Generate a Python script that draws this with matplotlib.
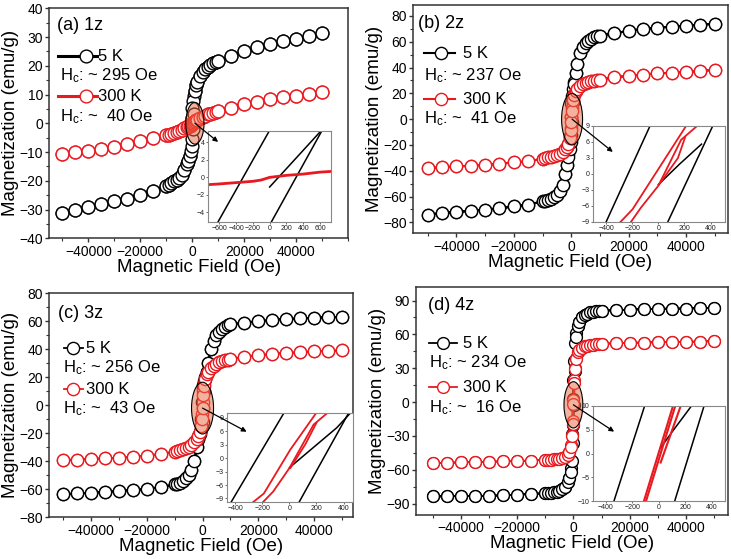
import numpy as np
import matplotlib.pyplot as plt
from matplotlib.patches import Ellipse
from matplotlib.ticker import MultipleLocator

plt.rcParams['font.family'] = ['Liberation Sans', 'DejaVu Sans']
plt.rcParams['mathtext.default'] = 'regular'

W, H = 731, 559
RED = '#e8191f'

# measurement grid (Oe): outer points are shared by both branches
field_outer = [1500, 2000, 3000, 4000, 5000, 6000, 7000, 8000, 9000, 10000,
               15000, 20000, 25000, 30000, 35000, 40000, 45000, 50000]
field_inner = [-1000, -500, -200, 0, 200, 500, 1000]
field_ticks = [-40000, -20000, 0, 20000, 40000]

# (a) 1z
a5_pos = [13.2, 14.4, 16.5, 18.0, 19.0, 19.7, 20.3, 20.9, 21.3, 21.7,
          23.5, 25.2, 26.4, 27.6, 28.5, 29.4, 30.4, 31.3]
a5_neg = [-13.0, -14.3, -16.4, -17.9, -18.9, -19.6, -20.2, -20.8, -21.3, -21.8,
          -23.5, -24.9, -26.2, -27.2, -28.2, -29.2, -30.1, -31.3]
a5_down = [-11.3, -3.1, 2.0, 5.4, 7.8, 9.6, 11.4]
a5_up = [-11.4, -9.6, -7.8, -5.4, -2.0, 3.1, 11.3]
a300_pos = [1.0, 1.3, 1.8, 2.3, 2.7, 3.1, 3.4, 3.7, 4.0, 4.3,
            5.4, 6.6, 7.5, 8.3, 9.0, 9.6, 10.1, 10.8]
a300_neg = [-1.0, -1.3, -1.8, -2.3, -2.7, -3.0, -3.3, -3.6, -3.9, -4.1,
            -5.2, -6.3, -7.2, -8.1, -8.8, -9.5, -10.1, -10.7]
a300_down = [-0.8, -0.45, -0.2, 0.05, 0.25, 0.45, 0.75]
a300_up = [-0.8, -0.5, -0.3, -0.05, 0.2, 0.4, 0.75]

# (b) 2z
b5_pos = [35.6, 42.5, 51.0, 56.0, 58.8, 60.8, 62.3, 63.5, 64.3, 64.8,
          66.6, 68.4, 69.9, 71.0, 71.7, 72.5, 73.3, 73.9]
b5_neg = [-35.6, -42.5, -51.0, -56.0, -58.8, -60.5, -61.8, -62.8, -63.4, -63.8,
          -66.3, -67.6, -69.2, -70.2, -71.0, -72.0, -72.8, -74.1]
b5_down = [-27.0, -13.0, 2.0, 12.5, 18.0, 23.0, 29.0]
b5_up = [-29.0, -23.0, -18.0, -12.5, -2.0, 13.0, 27.0]
b300_pos = [21.5, 23.5, 25.8, 27.3, 28.3, 29.0, 29.5, 29.9, 30.3, 30.6,
            32.5, 33.5, 34.6, 35.4, 36.1, 36.6, 37.4, 38.2]
b300_neg = [-21.5, -23.5, -25.5, -27.0, -28.0, -28.7, -29.2, -29.6, -30.0, -30.7,
            -32.8, -33.5, -34.6, -35.4, -36.1, -36.6, -37.4, -37.9]
b300_down = [-19.0, -14.5, -6.6, 1.5, 8.5, 15.0, 19.5]
b300_up = [-19.5, -15.0, -8.5, -2.2, 6.3, 14.5, 19.0]

# (c) 3z
c5_pos = [24.0, 30.0, 40.2, 46.0, 50.2, 52.3, 54.3, 55.9, 57.1, 57.9,
          59.0, 60.0, 61.0, 61.7, 62.1, 62.6, 62.9, 63.3]
c5_neg = [-24.0, -30.0, -40.0, -46.0, -50.0, -52.0, -54.0, -55.3, -56.0, -56.4,
          -58.6, -59.8, -60.5, -61.2, -61.9, -62.4, -62.9, -63.6]
c5_down = [-19.0, -10.0, 2.0, 12.0, 14.5, 17.0, 20.5]
c5_up = [-20.5, -17.0, -14.5, -12.0, -2.0, 10.0, 19.0]
c300_pos = [22.0, 24.0, 26.4, 28.4, 29.8, 30.8, 31.6, 32.1, 32.6, 32.9,
            34.8, 35.7, 36.7, 37.4, 37.9, 38.6, 38.8, 39.3]
c300_neg = [-22.0, -24.0, -26.4, -28.4, -29.8, -30.8, -31.5, -32.0, -32.5, -33.1,
            -34.8, -36.0, -36.7, -37.4, -37.9, -38.3, -38.8, -39.0]
c300_down = [-19.0, -14.0, -6.5, 2.0, 10.0, 15.0, 19.0]
c300_up = [-19.0, -15.0, -10.0, -2.2, 7.0, 14.0, 19.0]

# (d) 4z
d5_pos = [67.5, 71.0, 75.0, 77.0, 78.3, 79.5, 80.2, 80.6, 80.9, 81.0,
          81.4, 82.0, 82.3, 82.6, 82.9, 82.9, 83.2, 83.5]
d5_neg = [-67.5, -71.0, -75.0, -77.0, -78.3, -79.3, -80.0, -80.3, -80.5, -80.6,
          -81.4, -82.0, -82.6, -82.9, -83.2, -83.2, -83.5, -83.5]
d5_down = [-58.0, -28.0, 2.5, 20.0, 36.0, 52.0, 61.5]
d5_up = [-61.5, -52.0, -36.0, -20.0, -2.5, 28.0, 58.0]
d300_pos = [44.0, 46.5, 48.3, 49.3, 50.0, 50.6, 51.0, 51.3, 51.6, 51.6,
            52.2, 52.5, 52.8, 53.1, 53.1, 53.4, 53.7, 54.0]
d300_neg = [-44.0, -46.5, -48.3, -49.3, -50.0, -50.4, -50.7, -50.9, -51.0, -51.0,
            -51.8, -52.2, -52.5, -52.8, -53.1, -53.4, -53.7, -54.0]
d300_down = [-38.0, -29.0, -17.0, 1.5, 19.5, 30.0, 39.5]
d300_up = [-39.5, -30.0, -19.5, -1.5, 17.0, 29.0, 38.0]

# low-field insets: (field, M) polylines
ins_a_black = [([-615, -5], [-5.1, 5.3]), ([20, 620], [-5.1, 5.3]), ([0, 600], [-1.1, 5.2])]
ins_a_red = [([-730, -600, -400, -200, -100, 0, 200, 400, 600, 730],
              [-0.83, -0.75, -0.6, -0.45, -0.3, 0.0, 0.23, 0.38, 0.6, 0.68])]
ins_b_black = [([-400, -64], [-9, 9]), ([72, 416], [-9, 9]), ([0, 160, 330], [-2.0, 1.8, 5.6])]
ins_b_red = [([-290, -197, 212], [-9, -6.6, 9]),
             ([-210, -133, 0, 174, 296], [-9, -6.3, -2.2, 6.4, 9]),
             ([5, 150, 205], [-2.0, 3.0, 6.9])]
ins_c_black = [([-433, -42], [-10, 10]), ([69, 436], [-10, 10]), ([2, 350, 448], [-2.1, 6.8, 10])]
ins_c_red = [([-274, -188, 7, 196], [-10, -7.9, 1.9, 10]),
             ([-200, -120, 0, 179, 277], [-10, -7.5, -2.25, 7.5, 10]),
             ([8, 120, 200], [-2.2, 3.2, 7.9])]
ins_d_black = [([-337, -106], [-10, 10]), ([121, 342], [-10, 10]), ([15, 100, 247], [1.2, 4.5, 10])]
ins_d_red = [([-111, 108], [-10, 10]), ([-95, 125], [-10, 10]), ([15, 166], [-1.9, 10])]


def loop(pos, neg, down, up):
    fo = np.array(field_outer)
    fi = np.array(field_inner)
    pos, neg, down, up = map(np.array, (pos, neg, down, up))
    h = np.concatenate([fo[::-1], fi[::-1], -fo, -fo[::-1], fi, fo])
    m = np.concatenate([pos[::-1], down[::-1], neg, neg[::-1], up, pos])
    return h, m


def px_axes(fig, box):
    l, t, r, b = box
    return fig.add_axes([l / W, 1 - b / H, (r - l) / W, (b - t) / H])


panels = [
    dict(box=(49.3, 8.3, 348.3, 238.3), xlim=(-55000, 60000), ylim=(-40, 40), ymaj=10,
         d5=(a5_pos, a5_neg, a5_down, a5_up), d300=(a300_pos, a300_neg, a300_down, a300_up),
         lw5=1.8, lw300=2.2, ms=9.2, tag='(a) 1z', hc=('295', '40'),
         ell=((1000, 0), 7000, 14.5),
         ibox=(208.3, 131, 331, 222), ixlim=(-730, 730), iylim=(-5.1, 5.3),
         ixt=[-600, -400, -200, 0, 200, 400, 600], iyt=[-4, -2, 0, 2, 4],
         iblack=ins_a_black, ired=ins_a_red, ired_lw=2.0, arrow=(0.08, 0.88),
         leg=dict(tag=(8, 17), h0=9, h1=48, hc_=37, tx=49, hx=11, y=(48, 67, 88, 108)),
         llw=2.2),
    dict(box=(413.3, 5, 727.7, 233.3), xlim=(-55000, 54500), ylim=(-88.5, 88.5), ymaj=20,
         d5=(b5_pos, b5_neg, b5_down, b5_up), d300=(b300_pos, b300_neg, b300_down, b300_up),
         lw5=1.5, lw300=1.5, ms=8.8, tag='(b) 2z', hc=('237', '41'),
         ell=((300, 0), 7300, 40),
         ibox=(593, 126, 725, 222), ixlim=(-500, 510), iylim=(-9, 9),
         ixt=[-400, -200, 0, 200, 400], iyt=[-9, -6, -3, 0, 3, 6, 9],
         iblack=ins_b_black, ired=ins_b_red, ired_lw=1.3, arrow=(0.15, 0.73),
         leg=dict(tag=(5, 18), h0=11, h1=42, hc_=28, tx=50, hx=11, y=(48, 71, 94, 114)),
         llw=1.5),
    dict(box=(49.3, 293.3, 353, 517.3), xlim=(-55000, 54000), ylim=(-80, 80), ymaj=20,
         d5=(c5_pos, c5_neg, c5_down, c5_up), d300=(c300_pos, c300_neg, c300_down, c300_up),
         lw5=1.3, lw300=1.3, ms=8.8, tag='(c) 3z', hc=('256', '43'),
         ell=((0, -2), 7900, 37),
         ibox=(227, 413, 353, 502), ixlim=(-460, 470), iylim=(-9.8, 10.1),
         ixt=[-400, -200, 0, 200, 400], iyt=[-9, -6, -3, 0, 3, 6, 9],
         iblack=ins_c_black, ired=ins_c_red, ired_lw=1.3, arrow=(0.156, 0.79),
         leg=dict(tag=(9, 20), h0=15, h1=34, hc_=24, tx=37, hx=14, y=(55, 74, 96, 115)),
         llw=1.3),
    dict(box=(416, 287, 728, 515), xlim=(-56000, 55000), ylim=(-100, 102), ymaj=30,
         d5=(d5_pos, d5_neg, d5_down, d5_up), d300=(d300_pos, d300_neg, d300_down, d300_up),
         lw5=1.3, lw300=1.3, ms=8.5, tag='(d) 4z', hc=('234', '16'),
         ell=((0, -2.4), 6700, 41),
         ibox=(593, 406, 725, 501), ixlim=(-495, 500), iylim=(-10, 10),
         ixt=[-400, -200, 0, 200, 400], iyt=[-10, -5, 0, 5, 10],
         iblack=ins_d_black, ired=ins_d_red, ired_lw=1.5, arrow=(0.16, 0.73),
         leg=dict(tag=(12, 18), h0=13, h1=41, hc_=27, tx=47, hx=13, y=(56, 76, 100, 121)),
         llw=1.3),
]

fig = plt.figure(figsize=(W / 100, H / 100), dpi=100)

for p in panels:
    ax = px_axes(fig, p['box'])
    h5, m5 = loop(*p['d5'])
    h3, m3 = loop(*p['d300'])
    ax.plot(h5, m5, '-o', color='black', lw=p['lw5'], ms=p['ms'], mfc='white', mec='black', mew=1.0, zorder=2)
    ax.plot(h3, m3, '-o', color=RED, lw=p['lw300'], ms=p['ms'], mfc='white', mec=RED, mew=1.0, zorder=2.5)

    (cx, cy), ew, eh = p['ell']
    ax.add_patch(Ellipse((cx, cy), ew, eh, facecolor=(0.91, 0.40, 0.25, 0.5),
                         edgecolor='black', lw=0.8, zorder=4))

    ax.set_xlim(*p['xlim'])
    ax.set_ylim(*p['ylim'])
    ax.set_xticks(field_ticks)
    ax.xaxis.set_minor_locator(MultipleLocator(10000))
    ax.yaxis.set_major_locator(MultipleLocator(p['ymaj']))
    ax.yaxis.set_minor_locator(MultipleLocator(p['ymaj'] / 2))
    ax.tick_params(which='both', direction='out', labelsize=10, color='#333333',
                   top=False, right=False, pad=1.5)
    ax.tick_params(which='major', length=3, width=1.0)
    ax.tick_params(which='minor', length=2, width=0.8)
    for s in ax.spines.values():
        s.set_color('#333333')
        s.set_linewidth(1.1)
    ax.set_xlabel('Magnetic Field (Oe)', fontsize=13.5, labelpad=0)
    ax.set_ylabel('Magnetization (emu/g)', fontsize=13.5, labelpad=0)

    # hand-made legend block in the upper left corner
    l, t, r, b = p['box']
    aw, ah = r - l, b - t
    L = p['leg']
    fx = lambda dx: dx / aw
    fy = lambda dy: 1 - dy / ah
    ax.text(fx(L['tag'][0]), fy(L['tag'][1]), p['tag'], transform=ax.transAxes,
            fontsize=13, va='center', ha='left')
    labels = ['5 K', 'H$_c$: ~ %s Oe' % p['hc'][0], '300 K', 'H$_c$: ~  %s Oe' % p['hc'][1]]
    for i, col in enumerate(['black', RED]):
        yy = fy(L['y'][2 * i])
        ax.plot([fx(L['h0']), fx(L['hc_']), fx(L['h1'])], [yy] * 3, color=col, lw=p['llw'],
                marker='o', markevery=[1], ms=p['ms'], mfc='white', mec=col, mew=1.0,
                transform=ax.transAxes, clip_on=False, zorder=5)
        ax.text(fx(L['tx']), yy, labels[2 * i], transform=ax.transAxes, fontsize=12,
                va='center', ha='left')
        ax.text(fx(L['hx']), fy(L['y'][2 * i + 1]), labels[2 * i + 1], transform=ax.transAxes,
                fontsize=12, va='center', ha='left')

    # low-field inset
    ins = px_axes(fig, p['ibox'])
    for hh, mm in p['iblack']:
        ins.plot(hh, mm, color='black', lw=1.1)
    for hh, mm in p['ired']:
        ins.plot(hh, mm, color=RED, lw=p['ired_lw'])
    ins.set_xlim(*p['ixlim'])
    ins.set_ylim(*p['iylim'])
    ins.set_xticks(p['ixt'])
    ins.set_yticks(p['iyt'])
    ins.tick_params(direction='out', length=1.5, width=0.6, labelsize=5, pad=1,
                    color='#555555', labelcolor='#222222')
    for s in ins.spines.values():
        s.set_color('#888888')
        s.set_linewidth(0.8)

    ins.annotate('', xy=p['arrow'], xycoords='axes fraction', xytext=(cx, cy),
                 textcoords=ax.transData, annotation_clip=False,
                 arrowprops=dict(arrowstyle='-|>', color='black', lw=0.9,
                                 mutation_scale=7, shrinkA=0, shrinkB=0))

fig.savefig('out.png', dpi=100)
